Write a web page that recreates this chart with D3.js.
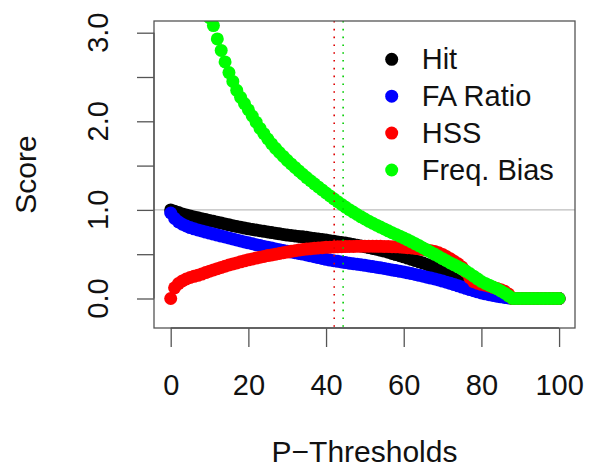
<!DOCTYPE html>
<html>
<head>
<meta charset="utf-8">
<script src="https://cdn.jsdelivr.net/npm/d3@7"></script>
<style>
  html, body { margin: 0; padding: 0; background: #fff; }
  svg { display: block; font-family: "Liberation Sans", Arial, sans-serif; }
</style>
</head>
<body>
<div id="chart"></div>
<script>
// ---- data -------------------------------------------------------------------
const thresholds = [
    0, 1, 2, 3, 4, 5, 6, 7, 8, 9, 10, 11, 12, 13, 14, 15, 16, 17, 18, 19,
    20, 21, 22, 23, 24, 25, 26, 27, 28, 29, 30, 31, 32, 33, 34, 35, 36, 37, 38, 39,
    40, 41, 42, 43, 44, 45, 46, 47, 48, 49, 50, 51, 52, 53, 54, 55, 56, 57, 58, 59,
    60, 61, 62, 63, 64, 65, 66, 67, 68, 69, 70, 71, 72, 73, 74, 75, 76, 77, 78, 79,
    80, 81, 82, 83, 84, 85, 86, 87, 88, 89, 90, 91, 92, 93, 94, 95, 96, 97, 98, 99, 100
];

const hit = [
    1.000, 0.985, 0.970, 0.955, 0.943, 0.932, 0.921, 0.911, 0.901, 0.891,
    0.881, 0.871, 0.861, 0.851, 0.841, 0.831, 0.822, 0.813, 0.804, 0.795,
    0.786, 0.779, 0.772, 0.765, 0.758, 0.751, 0.744, 0.737, 0.730, 0.723,
    0.716, 0.711, 0.706, 0.701, 0.696, 0.690, 0.684, 0.678, 0.672, 0.666,
    0.660, 0.653, 0.646, 0.639, 0.632, 0.625, 0.617, 0.609, 0.601, 0.593,
    0.585, 0.575, 0.565, 0.555, 0.545, 0.535, 0.522, 0.509, 0.496, 0.483,
    0.470, 0.456, 0.442, 0.428, 0.414, 0.400, 0.385, 0.368, 0.347, 0.324,
    0.300, 0.275, 0.250, 0.223, 0.196, 0.170, 0.150, 0.130, 0.112, 0.095,
    0.080, 0.069, 0.058, 0.048, 0.038, 0.030, 0.020, 0.010, 0, 0,
    0, 0, 0, 0, 0, 0, 0, 0, 0, 0, 0
];

const faRatio = [
    0.965, 0.905, 0.865, 0.838, 0.818, 0.800, 0.786, 0.774, 0.762, 0.750,
    0.738, 0.727, 0.716, 0.705, 0.694, 0.683, 0.672, 0.661, 0.650, 0.639,
    0.628, 0.618, 0.608, 0.598, 0.588, 0.578, 0.569, 0.560, 0.551, 0.542,
    0.533, 0.525, 0.517, 0.509, 0.501, 0.492, 0.482, 0.472, 0.462, 0.452,
    0.442, 0.434, 0.426, 0.419, 0.412, 0.405, 0.399, 0.393, 0.387, 0.381,
    0.374, 0.367, 0.360, 0.353, 0.346, 0.339, 0.331, 0.323, 0.315, 0.307,
    0.299, 0.290, 0.281, 0.271, 0.261, 0.251, 0.241, 0.231, 0.220, 0.209,
    0.197, 0.184, 0.171, 0.157, 0.143, 0.129, 0.115, 0.101, 0.088, 0.075,
    0.063, 0.053, 0.043, 0.034, 0.026, 0.019, 0.012, 0.006, 0, 0,
    0, 0, 0, 0, 0, 0, 0, 0, 0, 0, 0
];

const hss = [
    0.000, 0.120, 0.168, 0.198, 0.220, 0.237, 0.250, 0.262, 0.276, 0.292,
    0.308, 0.323, 0.337, 0.351, 0.365, 0.378, 0.390, 0.402, 0.414, 0.425,
    0.436, 0.446, 0.456, 0.466, 0.475, 0.484, 0.492, 0.500, 0.508, 0.516,
    0.524, 0.532, 0.540, 0.547, 0.553, 0.558, 0.562, 0.566, 0.570, 0.574,
    0.577, 0.579, 0.581, 0.583, 0.585, 0.586, 0.587, 0.588, 0.589, 0.590,
    0.590, 0.590, 0.590, 0.589, 0.589, 0.588, 0.587, 0.585, 0.583, 0.581,
    0.578, 0.574, 0.570, 0.565, 0.560, 0.554, 0.547, 0.539, 0.530, 0.515,
    0.497, 0.474, 0.448, 0.420, 0.392, 0.355, 0.300, 0.235, 0.190, 0.172,
    0.160, 0.150, 0.138, 0.126, 0.114, 0.100, 0.082, 0.050, 0, 0,
    0, 0, 0, 0, 0, 0, 0, 0, 0, 0, 0
];

// values for thresholds 0–10 lie above the plotted range and are clipped
const freqBias = [
    6.50, 5.60, 5.00, 4.55, 4.20, 3.95, 3.72, 3.55, 3.40, 3.27,
    3.17, 3.08, 2.93, 2.80, 2.67, 2.55, 2.45, 2.35, 2.27, 2.20,
    2.13, 2.06, 1.99, 1.92, 1.86, 1.80, 1.745, 1.695, 1.648, 1.603,
    1.560, 1.519, 1.479, 1.440, 1.402, 1.365, 1.329, 1.294, 1.259, 1.225,
    1.191, 1.158, 1.125, 1.093, 1.062, 1.032, 1.003, 0.975, 0.948, 0.922,
    0.897, 0.873, 0.850, 0.828, 0.806, 0.785, 0.764, 0.743, 0.723, 0.703,
    0.683, 0.662, 0.640, 0.617, 0.594, 0.570, 0.546, 0.522, 0.498, 0.474,
    0.450, 0.426, 0.402, 0.380, 0.357, 0.335, 0.310, 0.282, 0.252, 0.222,
    0.192, 0.170, 0.150, 0.130, 0.110, 0.085, 0.060, 0.030, 0, 0,
    0, 0, 0, 0, 0, 0, 0, 0, 0, 0, 0
];

const seriesNames  = ["Hit", "FA Ratio", "HSS", "Freq. Bias"];
const seriesColors = ["#000000", "#0000ff", "#ff0000", "#00ff00"];
const seriesValues = [hit, faRatio, hss, freqBias];

const xTicks = [0, 20, 40, 60, 80, 100];
const yTicks = [0, 0.5, 1, 1.5, 2, 2.5, 3];
const yLabels = [0, 1, 2, 3];

const refLine = 1;                 // horizontal reference
const markers = [                  // dotted vertical markers
    { at: 42.1, color: "#dd0000" },
    { at: 44.4, color: "#00cc00" }
];

// ---- layout -----------------------------------------------------------------
const W = 595, H = 470;
const box = { left: 154, right: 575, top: 21, bottom: 328 };
const FONT_TICK = 29, FONT_TITLE = 30, FONT_LEG = 29;
const R_PT = 6.5;

const x = d3.scaleLinear().domain([-4.3, 104.1]).range([box.left, box.right]);
const y = d3.scaleLinear().domain([-0.333, 3.132]).range([box.bottom, box.top]);

const svg = d3.select("#chart").append("svg")
    .attr("width", W).attr("height", H)
    .attr("viewBox", `0 0 ${W} ${H}`);

svg.append("defs").append("clipPath").attr("id", "plot-clip")
    .append("rect")
    .attr("x", box.left).attr("y", box.top)
    .attr("width", box.right - box.left).attr("height", box.bottom - box.top);

const plot = svg.append("g").attr("clip-path", "url(#plot-clip)");

// reference line at 1.0
plot.append("line")
    .attr("x1", box.left).attr("x2", box.right)
    .attr("y1", y(refLine)).attr("y2", y(refLine))
    .attr("stroke", "#bdbdbd").attr("stroke-width", 1.2);

// points — drawn in legend order so later series sit on top
seriesValues.forEach((vals, i) => {
    plot.append("g")
        .selectAll("circle")
        .data(thresholds.map((t, j) => [t, vals[j]]))
        .join("circle")
        .attr("cx", d => x(d[0]))
        .attr("cy", d => y(d[1]))
        .attr("r", R_PT)
        .attr("fill", seriesColors[i]);
});

// dotted markers
markers.forEach(m => {
    plot.append("line")
        .attr("x1", x(m.at)).attr("x2", x(m.at))
        .attr("y1", box.top).attr("y2", box.bottom)
        .attr("stroke", m.color).attr("stroke-width", 1.6)
        .attr("stroke-dasharray", "1.6,6.2");
});

// box
svg.append("rect")
    .attr("x", box.left).attr("y", box.top)
    .attr("width", box.right - box.left).attr("height", box.bottom - box.top)
    .attr("fill", "none").attr("stroke", "#555").attr("stroke-width", 1.3);

// x axis
const xAxis = d3.axisBottom(x).tickValues(xTicks).tickSize(19).tickPadding(0)
    .tickFormat(d3.format("d"));
const gx = svg.append("g").attr("transform", `translate(0,${box.bottom})`).call(xAxis);
gx.select(".domain").attr("d", `M${x(0)},0H${x(100)}`).attr("stroke", "#555").attr("stroke-width", 1.3);
gx.selectAll(".tick line").attr("stroke", "#555").attr("stroke-width", 1.3);
gx.selectAll(".tick text")
    .attr("y", 67).attr("dy", null)
    .attr("fill", "#111")
    .style("font-size", FONT_TICK + "px").style("font-family", "Liberation Sans, Arial, sans-serif");

// y axis
const yAxis = d3.axisLeft(y).tickValues(yTicks).tickSize(17).tickFormat("");
const gy = svg.append("g").attr("transform", `translate(${box.left},0)`).call(yAxis);
gy.select(".domain").attr("d", `M0,${y(0)}V${y(3)}`).attr("stroke", "#555").attr("stroke-width", 1.3);
gy.selectAll(".tick line").attr("stroke", "#555").attr("stroke-width", 1.3);

svg.append("g").selectAll("text")
    .data(yLabels)
    .join("text")
    .attr("transform", d => `translate(108,${y(d)}) rotate(-90)`)
    .attr("text-anchor", "middle")
    .attr("fill", "#111")
    .style("font-size", FONT_TICK + "px")
    .text(d3.format(".1f"));

// axis titles
svg.append("text")
    .attr("x", (box.left + box.right) / 2).attr("y", 462)
    .attr("text-anchor", "middle").attr("fill", "#111")
    .style("font-size", FONT_TITLE + "px")
    .text("P\u2212Thresholds");

svg.append("text")
    .attr("transform", `translate(36,${(box.top + box.bottom) / 2}) rotate(-90)`)
    .attr("text-anchor", "middle").attr("fill", "#111")
    .style("font-size", FONT_TITLE + "px")
    .text("Score");

// legend (no frame)
const leg = svg.append("g").selectAll("g")
    .data(seriesNames)
    .join("g")
    .attr("transform", (d, i) => `translate(391.7,${59.3 + i * 36.9})`);
leg.append("circle").attr("r", R_PT).attr("fill", (d, i) => seriesColors[i]);
leg.append("text")
    .attr("x", 30).attr("y", 10)
    .attr("fill", "#111")
    .style("font-size", FONT_LEG + "px")
    .text(d => d);
</script>
</body>
</html>
